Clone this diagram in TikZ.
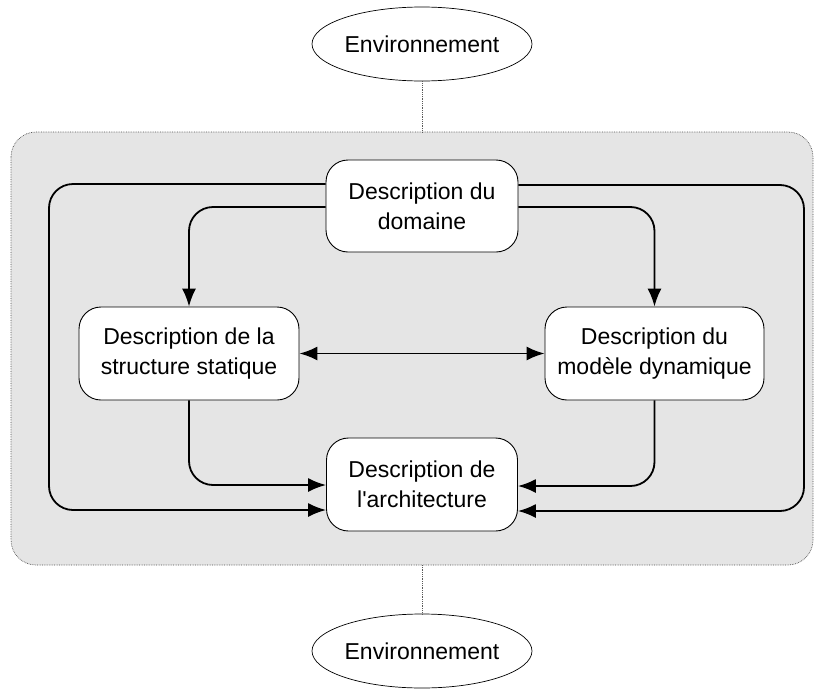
\documentclass[tikz,border=0pt]{standalone}
\usepackage{fontspec}
\setmainfont{Liberation Sans}
\usetikzlibrary{arrows.meta,shapes.geometric}
\begin{document}
\begin{tikzpicture}[x=1pt,y=-1pt,
  every node/.style={font=\fontsize{23}{30}\selectfont, align=center, inner sep=0pt},
  env/.style={ellipse, draw=black, line width=0.7pt, fill=white, minimum width=220pt, minimum height=74pt},
  task/.style={rounded corners=22pt, draw=black, line width=0.9pt, fill=white, minimum height=93pt},
  link/.style={draw=black!65, line width=0.8pt, densely dotted},
  flow/.style={draw=black, line width=1.8pt, rounded corners=24pt,
    -{Latex[length=18pt,width=14pt]}},
  dflow/.style={draw=black, line width=1.8pt,
    {Latex[length=18pt,width=14pt]}-{Latex[length=18pt,width=14pt]}}]
\useasboundingbox (0,0) rectangle (823,691);

% shaded system frame
\draw[fill=black!10, draw=black!70, line width=0.7pt, densely dotted, rounded corners=25pt]
  (11,132) rectangle (813,565);

% environment ellipses
\node[env] (envtop) at (422,44) {Environnement};
\node[env] (envbot) at (422,651) {Environnement};
\coordinate (frametop) at (422,132);
\coordinate (framebot) at (422,565);
\draw[link] (envtop.south) -- (frametop);
\draw[link] (framebot) -- (envbot.north);

% activities
\node[task, minimum width=192pt, minimum height=92pt] (dom) at (422,206) {Description du\\domaine};
\node[task, minimum width=220pt] (stat) at (189,353.5) {Description de la\\structure statique};
\node[task, minimum width=219pt] (dyn) at (654.5,353.5) {Description du\\modèle dynamique};
\node[task, minimum width=191pt] (arch) at (422,484.5) {Description de\\l\textquotesingle architecture};

% domain to static and dynamic descriptions
\draw[flow] (dom.west |- 0,207) -| (stat.north);
\draw[flow] (dom.east |- 0,207) -| (dyn.north);

% static <-> dynamic
\draw[dflow] (stat.east) -- (dyn.west);

% static and dynamic to architecture
\draw[flow] (stat.south) |- (arch.west |- 0,485);
\draw[flow] (dyn.south) |- (arch.east |- 0,486);

% outer loops from domain to architecture
\draw[flow] (dom.west |- 0,184) -- (49,184) -- (49,510) -- (arch.west |- 0,510);
\draw[flow] (dom.east |- 0,185) -- (804,185) -- (804,511) -- (arch.east |- 0,511);
\end{tikzpicture}
\end{document}
